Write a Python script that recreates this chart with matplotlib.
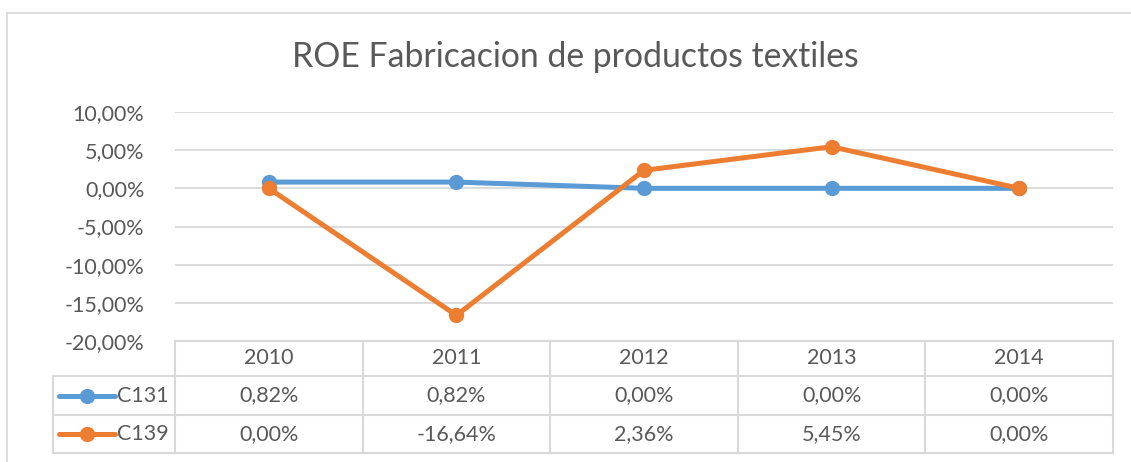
import matplotlib.pyplot as plt
from matplotlib.lines import Line2D

plt.rcParams['font.family'] = ['Lato', 'DejaVu Sans']

years = ['2010', '2011', '2012', '2013', '2014']
c131 = [0.82, 0.82, 0.00, 0.00, 0.00]
c139 = [0.00, -16.64, 2.36, 5.45, 0.00]
series_names = ['C131', 'C139']
yticks = [10, 5, 0, -5, -10, -15, -20]

blue = '#5B9BD5'
orange = '#ED7D31'
grid = '#D9D9D9'
txt = '#595959'
fs = 15.5

W, H = 1131, 462
fig = plt.figure(figsize=(W / 100, H / 100), dpi=100)

def fx(px):
    return px / W

def fy(py):
    return 1 - py / H

# chart frame (left and top only visible in the crop)
fig.add_artist(Line2D([fx(7), fx(7)], [fy(13), 0], color=grid, lw=1.2))
fig.add_artist(Line2D([fx(7), 1], [fy(13), fy(13)], color=grid, lw=1.2))

fig.text(fx(575), fy(57), 'ROE Fabricacion de productos textiles',
         ha='center', va='center', fontsize=24.3, color=txt)

# plot area
x0, x1, ytop, ybot = 175, 1113, 112, 341
ax = fig.add_axes([fx(x0), fy(ybot), fx(x1) - fx(x0), fy(ytop) - fy(ybot)])
xs = range(len(years))
ax.set_xlim(-0.5, len(years) - 0.5)
ax.set_ylim(-20, 10)
for v in yticks:
    if v != -20:
        ax.axhline(v, color=grid, lw=1.3, zorder=0)
ax.plot(xs, c131, color=blue, lw=3.6, marker='o', ms=10, solid_capstyle='round', zorder=3)
ax.plot(xs, c139, color=orange, lw=3.6, marker='o', ms=10, solid_capstyle='round', zorder=4)
ax.set_yticks(yticks)
ax.set_yticklabels([f'{v:.2f}%'.replace('.', ',') for v in yticks],
                   fontsize=fs, color=txt)
ax.tick_params(axis='y', length=0, pad=22)
ax.set_xticks([])
for s in ax.spines.values():
    s.set_visible(False)
ax.patch.set_alpha(0)

# data table
tb_left, tb_bot = 53, 453
row_edges = [341, 376, 415, 453]
tax = fig.add_axes([fx(tb_left), fy(tb_bot), fx(x1) - fx(tb_left), fy(341) - fy(tb_bot)])
unit = (x1 - x0) / len(years)
xl = -0.5 - (x0 - tb_left) / unit
tax.set_xlim(xl, len(years) - 0.5)
tax.set_ylim(tb_bot, 341)
tax.axis('off')
lc = dict(color=grid, lw=1.5, clip_on=False)
# horizontal lines
tax.plot([-0.5, len(years) - 0.5], [row_edges[0]] * 2, **lc)
for r in row_edges[1:]:
    tax.plot([xl, len(years) - 0.5], [r, r], **lc)
# vertical lines
tax.plot([xl, xl], [row_edges[1], row_edges[3]], **lc)
for i in range(len(years) + 1):
    tax.plot([i - 0.5, i - 0.5], [row_edges[0], row_edges[3]], **lc)

rows = [c131, c139]
colors = [blue, orange]
for i, y in enumerate(years):
    tax.text(i, (row_edges[0] + row_edges[1]) / 2, y, ha='center', va='center',
             fontsize=fs, color=txt)
for r, (vals, col, name) in enumerate(zip(rows, colors, series_names)):
    yc = (row_edges[r + 1] + row_edges[r + 2]) / 2
    for i, v in enumerate(vals):
        tax.text(i, yc, f'{v:.2f}%'.replace('.', ','), ha='center', va='center',
                 fontsize=fs, color=txt)
    lx0 = xl + 6 / unit
    lx1 = xl + 62 / unit
    tax.plot([lx0, lx1], [yc, yc], color=col, lw=3.6, solid_capstyle='round', clip_on=False)
    tax.plot([(lx0 + lx1) / 2], [yc], color=col, marker='o', ms=10, clip_on=False)
    tax.text(xl + 64 / unit, yc, name, ha='left', va='center', fontsize=fs, color=txt)

fig.savefig('out.png', dpi=100)
